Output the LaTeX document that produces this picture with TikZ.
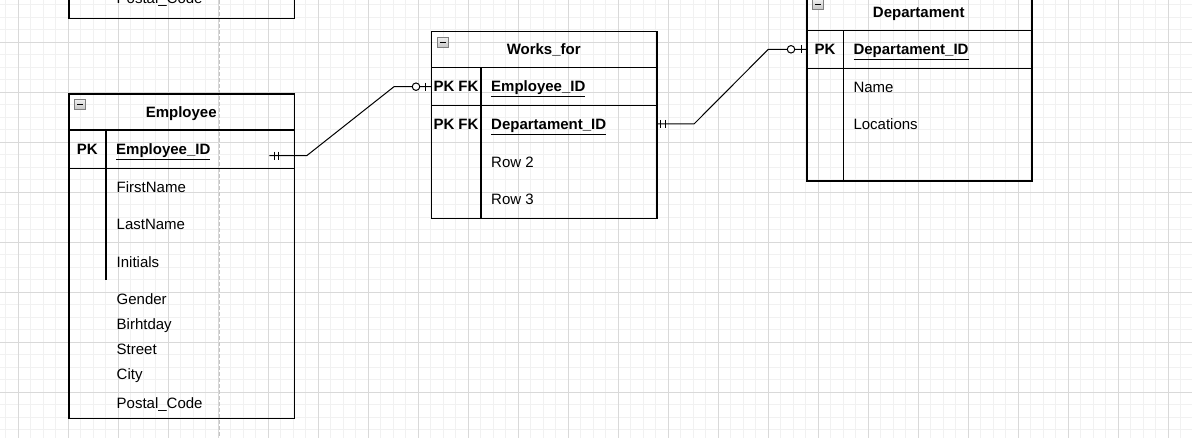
\documentclass[tikz,border=0pt]{standalone}
\usepackage{fontspec}
\setmainfont{Liberation Sans}
\usepackage{tikz}
\usetikzlibrary{positioning, calc}

\definecolor{minorgrid}{HTML}{F1F1F1}
\definecolor{majorgrid}{HTML}{D9D9D9}
\definecolor{breakline}{HTML}{C4C4C4}
\definecolor{icongray}{HTML}{7F7F7F}

\tikzset{
    table/.style={draw=black, line width=1.25pt, inner sep=0pt, anchor=north west},
    sep/.style={black, line width=1.25pt},
    title/.style={font=\fontsize{15}{18}\selectfont\bfseries, inner sep=0pt, text height=10.7pt, text depth=0pt},
    field/.style={font=\fontsize{15}{18}\selectfont, anchor=west, inner sep=0pt, text height=10.7pt, text depth=0pt},
    keyfield/.style={field, font=\fontsize{15}{18}\selectfont\bfseries},
    icon/.style={draw=icongray, line width=0.8pt, top color=gray!12, bottom color=gray!45,
        minimum width=11pt, minimum height=10pt, inner sep=0pt,
        path picture={\draw[black, line width=1.3pt]
            ($(path picture bounding box.west)+(2.5,0)$) -- ($(path picture bounding box.east)+(-2.5,0)$);}},
    rel/.style={black, line width=1pt},
}

\def\ergrid{%
    \def\raster{12.5}

    \fill[white] (0,0) rectangle (1192,438);
    % draw minor lines
    \foreach \i in {0,...,94}
    {
        \draw[minorgrid, line width=1pt] (5.8 + \i * \raster, 0) -- (5.8 + \i * \raster, 438);
    }
    \foreach \j in {0,...,34}
    {
        \draw[minorgrid, line width=1pt] (0, 4.8 + \j * \raster) -- (1192, 4.8 + \j * \raster);
    }

    % draw major lines
    \foreach \i in {0,...,23}
    {
        \draw[majorgrid, line width=1pt] (18.3 + \i * 4 * \raster, 0) -- (18.3 + \i * 4 * \raster, 438);
    }
    \foreach \j in {0,...,7}
    {
        \draw[majorgrid, line width=1pt] (0, 42.3 + \j * 4 * \raster) -- (1192, 42.3 + \j * 4 * \raster);
    }

    % page break
    \draw[breakline, line width=1pt, dash pattern=on 4pt off 2pt] (219,0) -- (219,438);
}

\begin{document}
\begin{tikzpicture}[x=1pt, y=-1pt]
    \useasboundingbox (0,0) rectangle (1192,438);
    \clip (0,0) rectangle (1192,438);
    \ergrid

    % tables
    \node[table, minimum width=225.7pt, minimum height=77.7pt] (upper) at (68.3,-60) {};
    \node[table, minimum width=225.7pt, minimum height=324.4pt] (employee) at (68.3,93.3) {};
    \node[table, minimum width=225.3pt, minimum height=187pt] (works) at (431,30.7) {};
    \node[table, minimum width=225pt, minimum height=186.6pt] (depart) at (806.3,-6.3) {};

    % row borders
    \foreach \xa/\xb/\y in {68.3/294/130, 68.3/294/168.3,
                            431/656.3/67.7, 431/656.3/105.3,
                            806.3/1031.3/30.7, 806.3/1031.3/68.3}
    {
        \draw[sep] (\xa,\y) -- (\xb,\y);
    }
    \draw[sep] (106,130) -- (106,280);
    \draw[sep] (481,67.7) -- (481,217.7);
    \draw[sep] (843.7,30.7) -- (843.7,180.3);

    % headers
    \node[icon] (emp-icon) at (80.2,104.5) {};
    \node[icon] (works-icon) at (442.5,42.2) {};
    \node[icon] (dep-icon) at (817.8,4.2) {};
    \node[title] (emp-title) at (181.2,111.7) {Employee};
    \node[title] (works-title) at (543.7,49.2) {Works\_for};
    \node[title] (dep-title) at (918.8,12.2) {Departament};

    % keys
    \node[title] (emp-pk) at (87.2,149.2) {PK};
    \node[title] (works-pk1) at (456,86.5) {PK FK};
    \node[title] (works-pk2) at (456,124) {PK FK};
    \node[title] (dep-pk) at (825,49.5) {PK};
    \node[keyfield] (emp-id) at (116,149.2) {\underline{Employee\_ID}};
    \node[keyfield] (works-emp) at (491,86.5) {\underline{Employee\_ID}};
    \node[keyfield] (works-dep) at (491,124) {\underline{Departament\_ID}};
    \node[keyfield] (dep-id) at (853.3,49.5) {\underline{Departament\_ID}};

    % attributes
    \node[field] (upper-code) at (116.5,-2) {Postal\_Code};
    \foreach \name/\y/\txt in {first/186.7/FirstName, last/224/LastName,
                                init/261.7/Initials, gender/299/Gender,
                                birth/324/Birhtday, street/349/Street,
                                city/374/City, code/403.3/Postal\_Code}
    {
        \node[field] (emp-\name) at (116.5,\y) {\txt};
    }
    \node[field] (works-row2) at (491,161.7) {Row 2};
    \node[field] (works-row3) at (491,198.7) {Row 3};
    \node[field] (dep-name) at (853.3,87) {Name};
    \node[field] (dep-loc) at (853.3,124) {Locations};

    % relationships
    \coordinate (emp-link) at (269.3,155.7);
    \coordinate (works-in) at (431,86.7);
    \coordinate (works-out) at (656.7,124);
    \coordinate (dep-in) at (806.3,49.3);

    \draw[rel] (emp-link) -- (306.7,155.7) -- (394,86.7) -- (works-in);
    \draw[rel] (works-out) -- (694,124) -- (768.3,49.3) -- (dep-in);

    \foreach \x/\y in {274.3/155.7, 278.7/155.7, 425.7/86.7,
                       660.7/124, 665/124, 801/49.3}
    {
        \draw[rel] (\x,\y - 4) -- (\x,\y + 4);
    }
    \draw[rel, fill=white] (416,86.7) circle (3.75pt);
    \draw[rel, fill=white] (791,49.3) circle (3.75pt);
\end{tikzpicture}
\end{document}
